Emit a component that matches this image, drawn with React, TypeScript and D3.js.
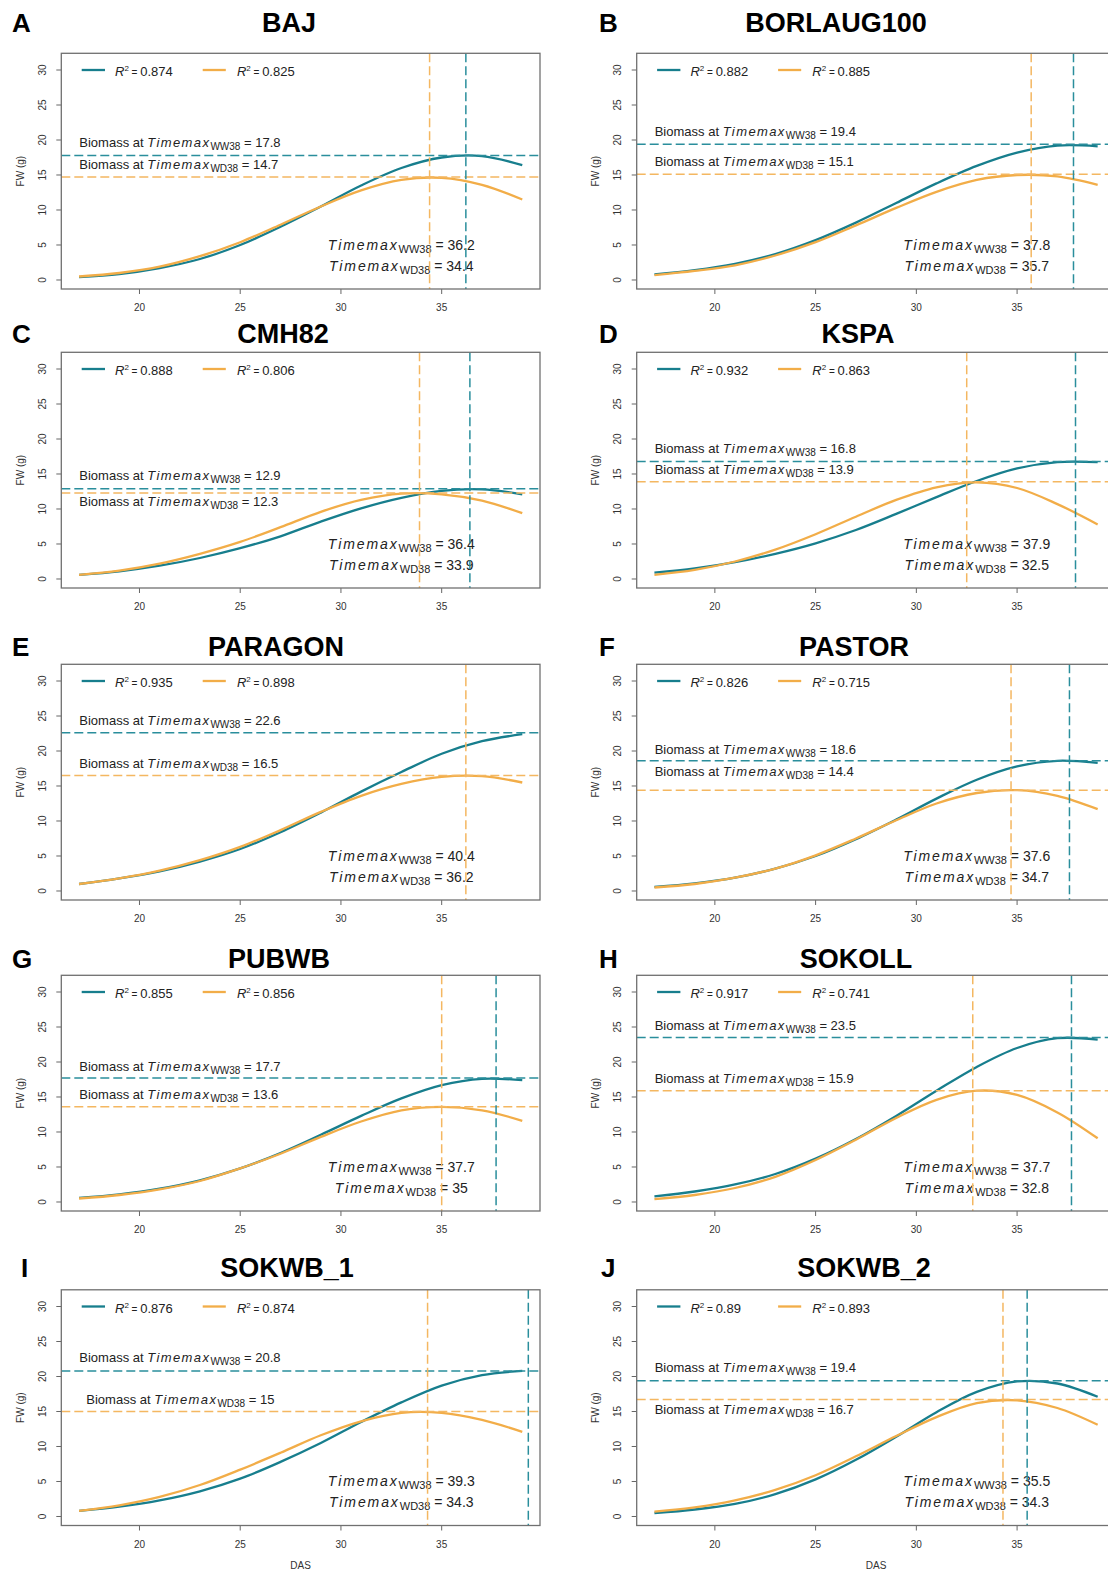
import React from "react";
import * as d3 from "d3";

// genotypes, in panel order (left column then right column, row by row)
const genotypes = ["BAJ", "BORLAUG100", "CMH82", "KSPA", "PARAGON", "PASTOR", "PUBWB", "SOKOLL", "SOKWB_1", "SOKWB_2"];
const panelLetters = ["A", "B", "C", "D", "E", "F", "G", "H", "I", "J"];

const days = [17, 19, 21, 23, 25, 27, 29, 31, 33, 35, 37, 39];

// fitted FW (g), well watered
const fwWW = [
  [0.4, 0.85, 1.7, 3.0, 5.0, 7.6, 10.5, 13.5, 16.0, 17.5, 17.7, 16.4],
  [0.8, 1.4, 2.3, 3.7, 5.7, 8.2, 11.0, 13.8, 16.3, 18.2, 19.2, 19.1],
  [0.6, 1.1, 1.9, 3.0, 4.4, 6.1, 8.2, 10.1, 11.6, 12.6, 12.8, 12.1],
  [0.9, 1.5, 2.4, 3.6, 5.1, 7.0, 9.3, 11.7, 14.0, 15.8, 16.7, 16.7],
  [1.0, 1.8, 2.8, 4.2, 6.0, 8.4, 11.2, 14.2, 17.0, 19.6, 21.4, 22.4],
  [0.6, 1.1, 1.9, 3.2, 5.0, 7.4, 10.2, 13.2, 15.9, 17.8, 18.6, 18.3],
  [0.6, 1.1, 1.9, 3.1, 4.8, 7.0, 9.6, 12.3, 14.8, 16.7, 17.6, 17.4],
  [0.8, 1.5, 2.5, 4.0, 6.2, 9.0, 12.3, 15.9, 19.3, 22.0, 23.4, 23.2],
  [0.8, 1.4, 2.3, 3.6, 5.4, 7.8, 10.5, 13.5, 16.3, 18.7, 20.2, 20.8],
  [0.5, 1.0, 1.8, 3.2, 5.3, 8.1, 11.4, 14.9, 17.8, 19.3, 19.0, 17.1],
];

// fitted FW (g), water deficit
const fwWD = [
  [0.5, 1.0, 1.9, 3.4, 5.4, 7.9, 10.5, 12.8, 14.3, 14.6, 13.6, 11.5],
  [0.7, 1.3, 2.1, 3.5, 5.4, 7.8, 10.3, 12.6, 14.3, 15.0, 14.8, 13.6],
  [0.6, 1.2, 2.2, 3.6, 5.3, 7.4, 9.6, 11.3, 12.2, 12.1, 11.2, 9.4],
  [0.6, 1.3, 2.5, 4.2, 6.4, 8.9, 11.3, 13.1, 13.8, 13.0, 10.7, 7.8],
  [1.0, 1.8, 2.9, 4.4, 6.3, 8.7, 11.3, 13.6, 15.3, 16.3, 16.4, 15.5],
  [0.5, 1.0, 1.9, 3.2, 5.1, 7.5, 10.1, 12.5, 14.0, 14.4, 13.6, 11.7],
  [0.5, 1.0, 1.8, 3.0, 4.8, 6.9, 9.3, 11.5, 13.1, 13.6, 13.1, 11.6],
  [0.4, 1.0, 2.0, 3.6, 6.0, 8.9, 12.0, 14.6, 15.9, 15.3, 12.8, 9.1],
  [0.8, 1.6, 2.8, 4.5, 6.7, 9.1, 11.6, 13.6, 14.8, 14.8, 13.8, 12.1],
  [0.7, 1.3, 2.3, 3.8, 5.9, 8.6, 11.5, 14.2, 16.2, 16.6, 15.5, 13.1],
];

const r2WW = ["0.874", "0.882", "0.888", "0.932", "0.935", "0.826", "0.855", "0.917", "0.876", "0.89"];
const r2WD = ["0.825", "0.885", "0.806", "0.863", "0.898", "0.715", "0.856", "0.741", "0.874", "0.893"];
const timemaxWW = [36.2, 37.8, 36.4, 37.9, 40.4, 37.6, 37.7, 37.7, 39.3, 35.5];
const timemaxWD = [34.4, 35.7, 33.9, 32.5, 36.2, 34.7, 35, 32.8, 34.3, 34.3];
const biomassWW = [17.8, 19.4, 12.9, 16.8, 22.6, 18.6, 17.7, 23.5, 20.8, 19.4];
const biomassWD = [14.7, 15.1, 12.3, 13.9, 16.5, 14.4, 13.6, 15.9, 15, 16.7];

const xTicks = [20, 25, 30, 35];
const yTicks = [0, 5, 10, 15, 20, 25, 30];

// layout
const colLeft = [61.3, 636.7];
const rowTop = [53.3, 352.3, 664.3, 975.3, 1289.8];
const titleBase = [32, 343, 656, 968, 1277];
const titleX = [289, 836, 283, 858, 276, 854, 279, 856, 287, 864];
const letterX = [12, 599, 12, 599, 12, 599, 12, 599, 21, 601];
// label heights in FW units, placed by hand as in the original
const wwLabelY = [19.64, 21.2, 14.76, 18.63, 24.41, 20.26, 19.37, 25.26, 22.66, 21.23];
const wdLabelY = [16.49, 16.9, 11.03, 15.61, 18.24, 17.1, 15.37, 17.66, 16.77, 15.34];
const wdLabelDx = [0, 0, 0, 0, 0, 0, 0, 0, 7, 0];

const W = 478.7;
const H = 235.7;
const TEAL = "#177e8d";
const TEAL_DASH = "#2a8e9c";
const ORANGE = "#f2ad48";
const ORANGE_DASH = "#f4b761";
const FONT = "'Liberation Sans', Arial, sans-serif";

const x = d3.scaleLinear().domain([16.12, 39.88]).range([0, W]);
const y = d3.scaleLinear().domain([-1.286, 32.386]).range([H, 0]);
const line = d3
  .line<number>()
  .x((_, i) => x(days[i]))
  .y((d) => y(d))
  .curve(d3.curveCatmullRom.alpha(0.5));

function Panel({ i }: { i: number }) {
  const col = i % 2;
  const row = Math.floor(i / 2);
  const left = colLeft[col];
  const top = rowTop[row];
  const clipId = `clip${i}`;
  const legY = y(30);
  const tmX = 340;
  return (
    <g>
      <text x={letterX[i]} y={titleBase[row]} fontFamily={FONT} fontWeight="bold" fontSize={26}>
        {panelLetters[i]}
      </text>
      <text x={titleX[i]} y={titleBase[row]} fontFamily={FONT} fontWeight="bold" fontSize={27} textAnchor="middle">
        {genotypes[i]}
      </text>
      <g transform={`translate(${left},${top})`} fontFamily={FONT}>
        <clipPath id={clipId}>
          <rect x={0} y={0} width={W} height={H} />
        </clipPath>

        {/* axes */}
        {xTicks.map((t) => (
          <g key={t} transform={`translate(${x(t)},${H})`}>
            <line y2={5} stroke="#666" strokeWidth={1} />
            <text y={22} textAnchor="middle" fontSize={10} fill="#333">{t}</text>
          </g>
        ))}
        {yTicks.map((t) => (
          <g key={t} transform={`translate(0,${y(t)})`}>
            <line x2={-5} stroke="#666" strokeWidth={1} />
            <text transform="translate(-19,0) rotate(-90)" dy="0.35em" textAnchor="middle" fontSize={10} fill="#333">{t}</text>
          </g>
        ))}
        <text transform={`translate(-41,${H / 2}) rotate(-90)`} dy="0.35em" textAnchor="middle" fontSize={10} fill="#333">
          FW (g)
        </text>
        {row === 4 && (
          <text x={W / 2} y={H + 44} textAnchor="middle" fontSize={10} fill="#333">DAS</text>
        )}

        {/* legend */}
        <line x1={20.4} x2={43.7} y1={legY} y2={legY} stroke={TEAL} strokeWidth={2.3} />
        <text x={53.7} y={legY + 6.5} fontSize={13} fill="#222">
          <tspan fontStyle="italic">R</tspan>
          <tspan fontSize={8} dy={-5}>2</tspan>
          <tspan fontSize={10} dy={5}> = </tspan>
          <tspan>{r2WW[i]}</tspan>
        </text>
        <line x1={141.4} x2={164.5} y1={legY} y2={legY} stroke={ORANGE} strokeWidth={2.3} />
        <text x={175.6} y={legY + 6.5} fontSize={13} fill="#222">
          <tspan fontStyle="italic">R</tspan>
          <tspan fontSize={8} dy={-5}>2</tspan>
          <tspan fontSize={10} dy={5}> = </tspan>
          <tspan>{r2WD[i]}</tspan>
        </text>

        {/* biomass annotations */}
        <text x={18} y={y(wwLabelY[i]) + 4.5} fontSize={13} fill="#222">
          Biomass at{" "}
          <tspan fontStyle="italic" letterSpacing={1.4}>Timemax</tspan>
          <tspan fontSize={10} dy={3}>WW38</tspan>
          <tspan dy={-3}> = {biomassWW[i]}</tspan>
        </text>
        <text x={18 + wdLabelDx[i]} y={y(wdLabelY[i]) + 4.5} fontSize={13} fill="#222">
          Biomass at{" "}
          <tspan fontStyle="italic" letterSpacing={1.4}>Timemax</tspan>
          <tspan fontSize={10} dy={3}>WD38</tspan>
          <tspan dy={-3}> = {biomassWD[i]}</tspan>
        </text>

        {/* timemax annotations */}
        <text x={tmX} y={y(5) + 5} fontSize={14} fill="#222" textAnchor="middle">
          <tspan fontStyle="italic" letterSpacing={1.9}>Timemax</tspan>
          <tspan fontSize={11} dy={3}>WW38</tspan>
          <tspan dy={-3}> = {timemaxWW[i]}</tspan>
        </text>
        <text x={tmX} y={y(2) + 5} fontSize={14} fill="#222" textAnchor="middle">
          <tspan fontStyle="italic" letterSpacing={1.9}>Timemax</tspan>
          <tspan fontSize={11} dy={3}>WD38</tspan>
          <tspan dy={-3}> = {timemaxWD[i]}</tspan>
        </text>

        {/* fitted curves */}
        <path d={line(fwWW[i]) ?? ""} fill="none" stroke={TEAL} strokeWidth={2.3} />
        <path d={line(fwWD[i]) ?? ""} fill="none" stroke={ORANGE} strokeWidth={2.3} />

        {/* reference lines */}
        <g clipPath={`url(#${clipId})`} strokeWidth={1.5} strokeDasharray="9,4" fill="none">
          <line x1={0} x2={W} y1={y(biomassWW[i])} y2={y(biomassWW[i])} stroke={TEAL_DASH} />
          <line x1={0} x2={W} y1={y(biomassWD[i])} y2={y(biomassWD[i])} stroke={ORANGE_DASH} />
          <line x1={x(timemaxWW[i])} x2={x(timemaxWW[i])} y1={0} y2={H} stroke={TEAL_DASH} />
          <line x1={x(timemaxWD[i])} x2={x(timemaxWD[i])} y1={0} y2={H} stroke={ORANGE_DASH} />
        </g>

        <rect x={0} y={0} width={W} height={H} fill="none" stroke="#707070" strokeWidth={1.3} />
      </g>
    </g>
  );
}

export default function App() {
  return (
    <>
      <style>{`body{margin:0}`}</style>
      <svg width={1108} height={1573} style={{ display: "block", background: "#fff" }}>
        {genotypes.map((_, i) => (
          <Panel key={i} i={i} />
        ))}
      </svg>
    </>
  );
}
